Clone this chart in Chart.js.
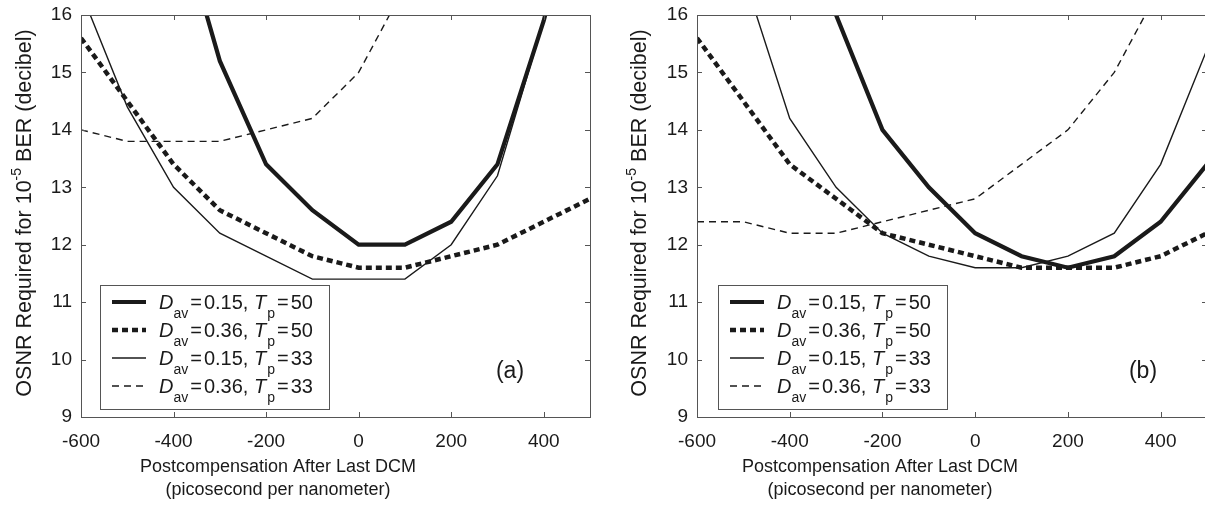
<!DOCTYPE html>
<html>
<head>
<meta charset="utf-8">
<script src="https://cdn.jsdelivr.net/npm/chart.js@4.4.1/dist/chart.umd.min.js"></script>
<style>
html, body { margin: 0; padding: 0; background: #fff; overflow: hidden; }
#wrap { position: relative; width: 1205px; height: 511px; overflow: hidden; }
#chartA { position: absolute; left: 0; top: 0; }
#chartB { position: absolute; left: 600px; top: 0; }
</style>
</head>
<body>
<div id="wrap">
  <canvas id="chartA" width="600" height="511"></canvas>
  <canvas id="chartB" width="612" height="511"></canvas>
</div>
<script>
// postcompensation after last DCM (ps/nm)
const postcomp = [-600, -500, -400, -300, -200, -100, 0, 100, 200, 300, 400, 500];
const xTicks = [-600, -400, -200, 0, 200, 400];
const yTicks = [9, 10, 11, 12, 13, 14, 15, 16];

// legend text parts
const davValues = ['0.15', '0.36', '0.15', '0.36'];
const tpValues = ['50', '50', '33', '33'];

// panel (a) - OSNR required (dB)
const a_d015_t50 = [null, null, 18.0, 15.2, 13.4, 12.6, 12.0, 12.0, 12.4, 13.4, 15.9, 19.0];
const a_d036_t50 = [15.6, 14.5, 13.4, 12.6, 12.2, 11.8, 11.6, 11.6, 11.8, 12.0, 12.4, 12.8];
const a_d015_t33 = [16.4, 14.4, 13.0, 12.2, 11.8, 11.4, 11.4, 11.4, 12.0, 13.2, 15.9, null];
const a_d036_t33 = [14.0, 13.8, 13.8, 13.8, 14.0, 14.2, 15.0, 16.5, null, null, null, null];

// panel (b)
const b_d015_t50 = [null, null, 18.8, 16.0, 14.0, 13.0, 12.2, 11.8, 11.6, 11.8, 12.4, 13.4];
const b_d036_t50 = [15.6, 14.5, 13.4, 12.8, 12.2, 12.0, 11.8, 11.6, 11.6, 11.6, 11.8, 12.2];
const b_d015_t33 = [null, 16.7, 14.2, 13.0, 12.2, 11.8, 11.6, 11.6, 11.8, 12.2, 13.4, 15.4];
const b_d036_t33 = [12.4, 12.4, 12.2, 12.2, 12.4, 12.6, 12.8, 13.4, 14.0, 15.0, 16.5, null];

const FONT = '"Liberation Sans", Arial, Helvetica, sans-serif';
const INK = '#1a1a1a';

const lineStyles = [
  { borderWidth: 4.2, borderDash: [] },
  { borderWidth: 4.5, borderDash: [6, 4] },
  { borderWidth: 1.4, borderDash: [] },
  { borderWidth: 1.4, borderDash: [7, 5] }
];

function toPoints(arr) {
  return postcomp.map((x, i) => ({ x: x, y: arr[i] }));
}

function makeDatasets(series) {
  return series.map((arr, i) => ({
    data: toPoints(arr),
    borderColor: INK,
    borderWidth: lineStyles[i].borderWidth,
    borderDash: lineStyles[i].borderDash,
    pointRadius: 0,
    tension: 0,
    fill: false,
    clip: 0
  }));
}

function noPad(s) {
  s.paddingTop = 0; s.paddingBottom = 0; s.paddingLeft = 0; s.paddingRight = 0;
}

// box, inward ticks, titles, legend, panel letter
const decorPlugin = {
  id: 'decor',
  afterDraw(chart) {
    const o = chart.options.plugins.decor;
    const ctx = chart.ctx;
    const a = chart.chartArea;
    const xs = chart.scales.x, ys = chart.scales.y;
    ctx.save();

    // axes box
    ctx.strokeStyle = '#555';
    ctx.lineWidth = 1;
    ctx.setLineDash([]);
    ctx.strokeRect(a.left + 0.5, a.top + 0.5, a.right - a.left, a.bottom - a.top);
    ctx.beginPath();
    xTicks.forEach(v => {
      const px = Math.round(xs.getPixelForValue(v)) + 0.5;
      ctx.moveTo(px, a.bottom); ctx.lineTo(px, a.bottom - 5);
      ctx.moveTo(px, a.top); ctx.lineTo(px, a.top + 5);
    });
    yTicks.forEach(v => {
      const py = Math.round(ys.getPixelForValue(v)) + 0.5;
      ctx.moveTo(a.left, py); ctx.lineTo(a.left + 5, py);
      ctx.moveTo(a.right, py); ctx.lineTo(a.right - 5, py);
    });
    ctx.stroke();

    ctx.fillStyle = INK;

    // x title
    ctx.font = '18px ' + FONT;
    ctx.textAlign = 'center';
    ctx.textBaseline = 'alphabetic';
    ctx.fillText('Postcompensation After Last DCM', o.xTitleX, 472);
    ctx.fillText('(picosecond per nanometer)', o.xTitleX, 495);

    // y title with superscript
    ctx.save();
    ctx.translate(o.yTitleX, 213);
    ctx.rotate(-Math.PI / 2);
    ctx.textAlign = 'left';
    const p1 = 'OSNR Required for 10', sup = '-5', p2 = ' BER (decibel)';
    const big = '21.5px ', small = '14px ';
    ctx.font = big + FONT;
    const w1 = ctx.measureText(p1).width, w2 = ctx.measureText(p2).width;
    ctx.font = small + FONT;
    const ws = ctx.measureText(sup).width;
    let x0 = -(w1 + ws + w2) / 2;
    ctx.font = big + FONT;
    ctx.fillText(p1, x0, 7.5);
    ctx.font = small + FONT;
    ctx.fillText(sup, x0 + w1, -2);
    ctx.font = big + FONT;
    ctx.fillText(p2, x0 + w1 + ws, 7.5);
    ctx.restore();

    // legend
    const lx = o.legendX, ly = 285, lw = 229, lh = 124;
    ctx.fillStyle = '#fff';
    ctx.fillRect(lx, ly, lw, lh);
    ctx.strokeStyle = '#555';
    ctx.lineWidth = 1;
    ctx.strokeRect(lx + 0.5, ly + 0.5, lw, lh);
    chart.data.datasets.forEach((ds, i) => {
      const yy = ly + 17 + i * 28;
      ctx.strokeStyle = INK;
      ctx.lineWidth = ds.borderWidth;
      ctx.setLineDash(ds.borderDash);
      ctx.beginPath();
      ctx.moveTo(lx + 12, yy);
      ctx.lineTo(lx + 46, yy);
      ctx.stroke();
      ctx.setLineDash([]);

      ctx.fillStyle = INK;
      ctx.textAlign = 'left';
      const base = yy + 7;
      const parts = [
        { t: 'D', f: 'italic 20px ', dy: 0, gap: 0 },
        { t: 'av', f: '14px ', dy: 9, gap: 0 },
        { t: '=', f: '20px ', dy: 0, gap: 2 },
        { t: davValues[i] + ', ', f: '20px ', dy: 0, gap: 2 },
        { t: 'T', f: 'italic 20px ', dy: 0, gap: 0 },
        { t: 'p', f: '14px ', dy: 9, gap: 1 },
        { t: '=', f: '20px ', dy: 0, gap: 2 },
        { t: tpValues[i], f: '20px ', dy: 0, gap: 2 }
      ];
      let cx = lx + 59;
      parts.forEach(p => {
        cx += p.gap;
        ctx.font = p.f + FONT;
        ctx.fillText(p.t, cx, base + p.dy);
        cx += ctx.measureText(p.t).width;
      });
    });

    // panel letter
    ctx.fillStyle = INK;
    ctx.font = '23px ' + FONT;
    ctx.textAlign = 'center';
    ctx.textBaseline = 'middle';
    ctx.fillText(o.letter, o.letterX, 372);

    ctx.restore();
  }
};

function makeChart(id, series, cfg) {
  return new Chart(document.getElementById(id), {
    type: 'line',
    data: { datasets: makeDatasets(series) },
    options: {
      responsive: false,
      animation: false,
      events: [],
      layout: { padding: { top: 15, right: cfg.rightPad, left: 0, bottom: 0 } },
      plugins: {
        legend: { display: false },
        tooltip: { enabled: false },
        decor: cfg
      },
      scales: {
        x: {
          type: 'linear',
          min: -600,
          max: 500,
          afterBuildTicks: s => { s.ticks = xTicks.map(v => ({ value: v })); },
          afterFit: s => { s.height = 94; noPad(s); },
          grid: { display: false, drawTicks: false },
          border: { display: false },
          ticks: { font: { family: FONT, size: 19 }, color: INK, padding: 13, maxRotation: 0, autoSkip: false }
        },
        y: {
          type: 'linear',
          min: 9,
          max: 16,
          afterBuildTicks: s => { s.ticks = yTicks.map(v => ({ value: v })); },
          afterFit: s => { s.width = cfg.yWidth; noPad(s); },
          grid: { display: false, drawTicks: false },
          border: { display: false },
          ticks: { font: { family: FONT, size: 19 }, color: INK, padding: 9, autoSkip: false }
        }
      }
    },
    plugins: [decorPlugin]
  });
}

makeChart('chartA', [a_d015_t50, a_d036_t50, a_d015_t33, a_d036_t33],
  { yWidth: 81, rightPad: 10, xTitleX: 278, yTitleX: 23, legendX: 100, letter: '(a)', letterX: 510 });
makeChart('chartB', [b_d015_t50, b_d036_t50, b_d015_t33, b_d036_t33],
  { yWidth: 97, rightPad: 5, xTitleX: 280, yTitleX: 38, legendX: 118, letter: '(b)', letterX: 543 });
</script>
</body>
</html>
